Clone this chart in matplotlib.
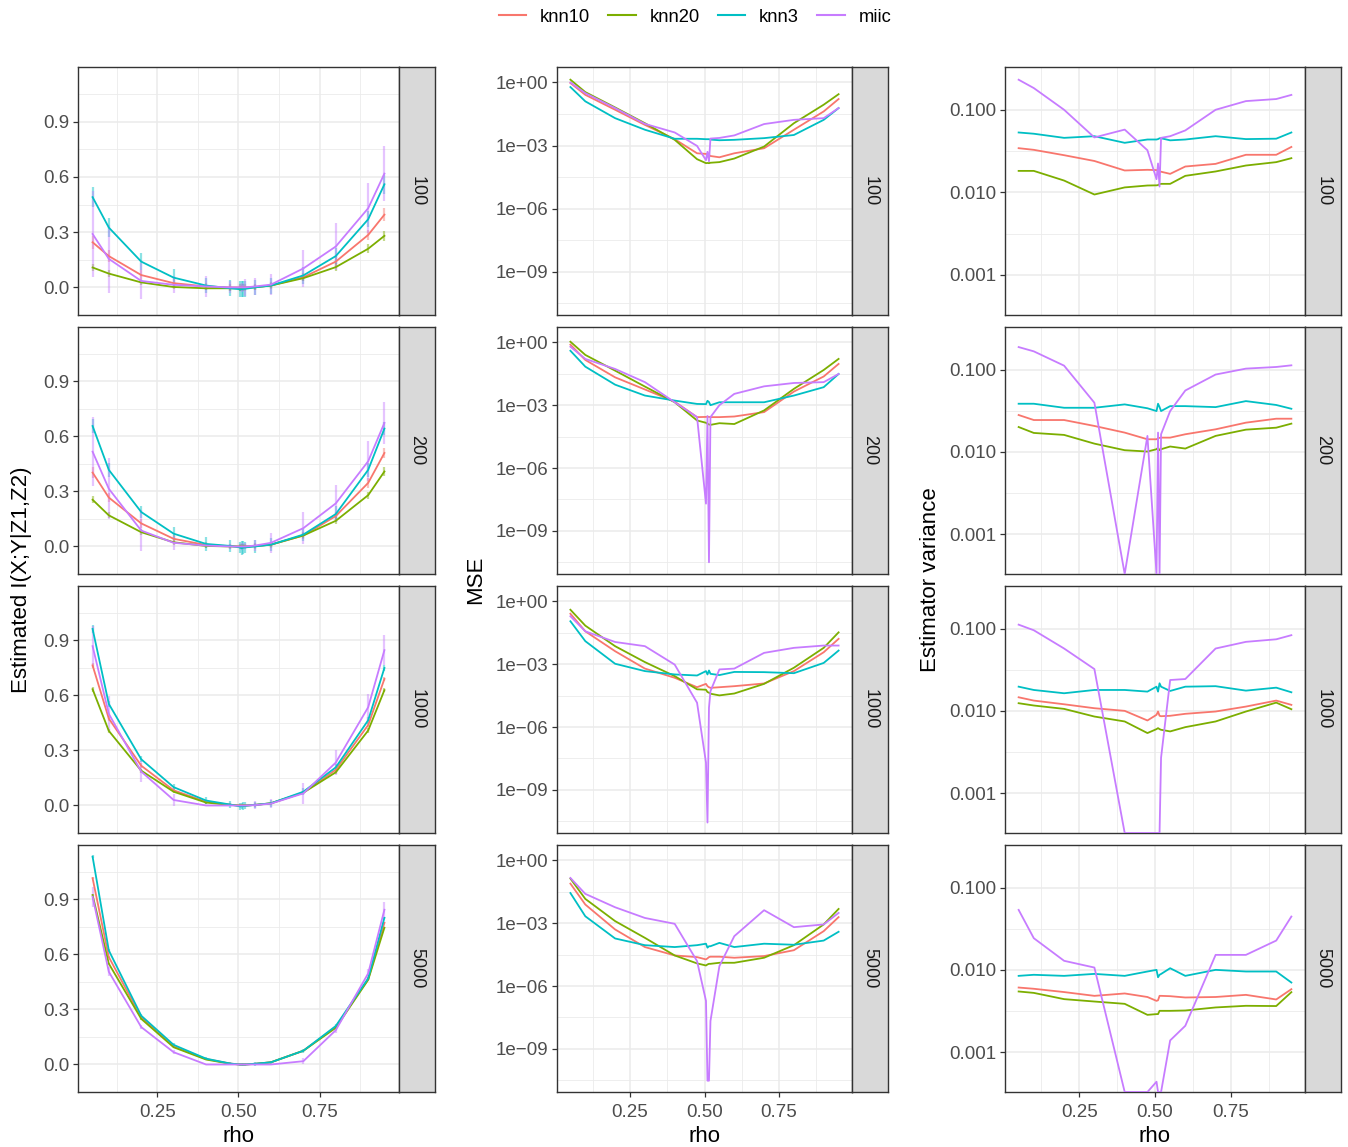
import numpy as np
import matplotlib
matplotlib.use("Agg")
import matplotlib.pyplot as plt
from matplotlib.lines import Line2D

plt.rcParams['font.family'] = ['Liberation Sans', 'DejaVu Sans']

# --- datos ---
rho = [0.05, 0.1, 0.2, 0.3, 0.4, 0.475, 0.505, 0.51, 0.515, 0.52, 0.55, 0.6, 0.7, 0.8, 0.9, 0.95]
methods = ["knn10", "knn20", "knn3", "miic"]
sizes = ["100", "200", "1000", "5000"]
colors = {"knn10": "#F8766D", "knn20": "#7CAE00", "knn3": "#00BFC4", "miic": "#C77CFF"}

# estimacion de I(X;Y|Z1,Z2)
est_100 = {
    "knn10": [0.245, 0.17, 0.067, 0.023, 0.005, 0.0, 0.0, 0.0, 0.0, 0.0, 0.002, 0.01, 0.055, 0.14, 0.285, 0.395],
    "knn20": [0.108, 0.075, 0.027, 0.002, -0.005, -0.005, -0.005, -0.004, -0.004, -0.003, 0.0, 0.01, 0.05, 0.11, 0.21, 0.28],
    "knn3": [0.49, 0.325, 0.14, 0.053, 0.01, -0.005, -0.01, -0.01, -0.008, -0.008, 0.0, 0.01, 0.065, 0.17, 0.37, 0.56],
    "miic": [0.29, 0.155, 0.035, 0.014, 0.005, 0.0, 0.0, 0.0, 0.0, 0.0, 0.005, 0.015, 0.103, 0.222, 0.43, 0.618],
}
est_200 = {
    "knn10": [0.403, 0.267, 0.126, 0.042, 0.008, 0.002, 0.0, 0.0, 0.0, 0.0, 0.002, 0.01, 0.06, 0.166, 0.347, 0.51],
    "knn20": [0.255, 0.17, 0.078, 0.023, 0.003, 0.0, 0.0, 0.0, 0.0, 0.0, 0.002, 0.01, 0.06, 0.14, 0.28, 0.409],
    "knn3": [0.657, 0.418, 0.188, 0.07, 0.014, 0.003, -0.005, -0.01, -0.005, -0.005, 0.0, 0.01, 0.065, 0.177, 0.418, 0.643],
    "miic": [0.517, 0.315, 0.087, 0.02, 0.005, 0.0, 0.0, 0.0, 0.0, 0.0, 0.005, 0.02, 0.1, 0.235, 0.465, 0.674],
}
est_1000 = {
    "knn10": [0.764, 0.474, 0.217, 0.083, 0.02, 0.004, 0.0, 0.0, 0.0, 0.0, 0.003, 0.012, 0.07, 0.195, 0.439, 0.69],
    "knn20": [0.634, 0.407, 0.19, 0.075, 0.016, 0.003, 0.0, 0.0, 0.0, 0.0, 0.003, 0.012, 0.07, 0.181, 0.409, 0.629],
    "knn3": [0.963, 0.554, 0.252, 0.10, 0.027, 0.005, -0.005, -0.004, -0.003, -0.002, 0.003, 0.012, 0.075, 0.208, 0.465, 0.75],
    "miic": [0.869, 0.5, 0.185, 0.03, 0.0, 0.0, 0.0, 0.0, 0.0, 0.0, 0.002, 0.01, 0.066, 0.234, 0.536, 0.847],
}
est_5000 = {
    "knn10": [1.016, 0.586, 0.258, 0.098, 0.03, 0.005, 0.0, 0.0, 0.0, 0.0, 0.004, 0.012, 0.075, 0.205, 0.465, 0.773],
    "knn20": [0.924, 0.55, 0.249, 0.094, 0.027, 0.004, 0.0, 0.0, 0.0, 0.0, 0.003, 0.012, 0.075, 0.2, 0.462, 0.746],
    "knn3": [1.133, 0.622, 0.266, 0.107, 0.032, 0.005, 0.0, 0.0, 0.0, 0.0, 0.004, 0.012, 0.075, 0.21, 0.47, 0.8],
    "miic": [0.915, 0.506, 0.204, 0.067, 0.0, 0.0, 0.0, 0.0, 0.0, 0.0, 0.0, 0.0, 0.018, 0.187, 0.497, 0.844],
}

# MSE (log10)
log_mse_100 = {
    "knn10": [-0.03, -0.59, -1.3, -2.02, -2.7, -3.37, -3.4, -3.42, -3.45, -3.5, -3.56, -3.37, -3.13, -2.25, -1.38, -0.79],
    "knn20": [0.13, -0.46, -1.19, -1.94, -2.73, -3.65, -3.84, -3.83, -3.84, -3.82, -3.79, -3.62, -3.05, -1.94, -1.06, -0.56],
    "knn3": [-0.22, -0.9, -1.7, -2.25, -2.68, -2.68, -2.7, -2.7, -2.7, -2.72, -2.75, -2.73, -2.65, -2.5, -1.78, -1.22],
    "miic": [0.0, -0.51, -1.22, -1.97, -2.38, -3.02, -3.7, -3.3, -3.75, -2.67, -2.64, -2.52, -1.98, -1.78, -1.7, -1.22],
}
log_mse_200 = {
    "knn10": [-0.11, -0.84, -1.67, -2.25, -2.83, -3.57, -3.56, -3.55, -3.56, -3.57, -3.57, -3.54, -3.33, -2.35, -1.63, -1.03],
    "knn20": [0.03, -0.6, -1.35, -2.11, -2.86, -3.73, -3.84, -3.89, -3.92, -3.94, -3.86, -3.9, -3.25, -2.22, -1.32, -0.79],
    "knn3": [-0.4, -1.16, -2.02, -2.54, -2.78, -2.94, -2.95, -2.79, -2.85, -3.0, -2.86, -2.86, -2.86, -2.54, -2.14, -1.51],
    "miic": [-0.21, -0.79, -1.27, -1.9, -2.86, -3.57, -7.7, -3.52, -10.5, -3.57, -3.0, -2.46, -2.1, -1.94, -1.9, -1.51],
}
log_mse_1000 = {
    "knn10": [-0.59, -1.43, -2.38, -3.21, -3.65, -4.1, -3.94, -4.05, -4.1, -4.13, -4.1, -4.05, -3.92, -3.33, -2.43, -1.79],
    "knn20": [-0.4, -1.16, -2.14, -2.9, -3.57, -4.2, -4.22, -4.33, -4.36, -4.41, -4.49, -4.4, -3.94, -3.17, -2.22, -1.48],
    "knn3": [-0.95, -1.9, -2.98, -3.33, -3.49, -3.54, -3.33, -3.49, -3.3, -3.46, -3.52, -3.37, -3.38, -3.43, -2.94, -2.35],
    "miic": [-0.71, -1.43, -1.94, -2.14, -3.02, -4.84, -7.7, -10.56, -5.08, -4.29, -3.25, -3.21, -2.46, -2.22, -2.11, -2.11],
}
log_mse_5000 = {
    "knn10": [-1.11, -2.11, -3.3, -4.14, -4.54, -4.62, -4.73, -4.68, -4.62, -4.6, -4.6, -4.65, -4.57, -4.29, -3.38, -2.71],
    "knn20": [-0.87, -1.84, -2.9, -3.7, -4.54, -4.92, -5.02, -4.97, -4.94, -4.94, -4.89, -4.89, -4.65, -4.05, -3.06, -2.32],
    "knn3": [-1.56, -2.67, -3.73, -4.05, -4.14, -4.05, -3.98, -4.17, -4.1, -4.1, -3.94, -4.14, -3.98, -4.03, -3.83, -3.41],
    "miic": [-0.84, -1.6, -2.24, -2.75, -3.03, -4.81, -6.71, -10.52, -10.52, -7.67, -5.05, -3.62, -2.38, -3.19, -3.06, -2.51],
}

# varianza del estimador (log10), None = 0
log_var_100 = {
    "knn10": [-1.465, -1.485, -1.55, -1.62, -1.735, -1.727, -1.73, -1.74, -1.75, -1.75, -1.776, -1.687, -1.655, -1.545, -1.545, -1.45],
    "knn20": [-1.74, -1.74, -1.857, -2.026, -1.94, -1.917, -1.915, -1.912, -1.9, -1.897, -1.897, -1.8, -1.747, -1.675, -1.634, -1.586],
    "knn3": [-1.275, -1.29, -1.34, -1.32, -1.4, -1.36, -1.36, -1.355, -1.345, -1.345, -1.37, -1.36, -1.32, -1.355, -1.35, -1.275],
    "miic": [-0.636, -0.737, -1.0, -1.335, -1.24, -1.49, -1.84, -1.65, -1.93, -1.34, -1.32, -1.25, -1.0, -0.895, -0.87, -0.82],
}
log_var_200 = {
    "knn10": [-1.552, -1.613, -1.613, -1.685, -1.766, -1.847, -1.847, -1.835, -1.83, -1.827, -1.827, -1.786, -1.726, -1.645, -1.597, -1.597],
    "knn20": [-1.698, -1.77, -1.794, -1.9, -1.98, -1.996, -1.968, -1.95, -1.98, -1.968, -1.935, -1.96, -1.806, -1.73, -1.706, -1.657],
    "knn3": [-1.415, -1.415, -1.464, -1.464, -1.423, -1.47, -1.504, -1.415, -1.455, -1.504, -1.444, -1.444, -1.456, -1.383, -1.43, -1.476],
    "miic": [-0.726, -0.778, -0.952, -1.403, None, -1.806, None, -1.766, None, -1.786, -1.504, -1.254, -1.06, -0.988, -0.968, -0.948],
}
log_var_1000 = {
    "knn10": [-1.835, -1.875, -1.92, -1.968, -2.0, -2.117, -2.048, -2.008, -2.06, -2.065, -2.06, -2.036, -2.008, -1.948, -1.875, -1.927],
    "knn20": [-1.907, -1.935, -1.976, -2.069, -2.129, -2.27, -2.222, -2.21, -2.222, -2.23, -2.25, -2.198, -2.129, -2.008, -1.9, -1.98],
    "knn3": [-1.706, -1.746, -1.786, -1.746, -1.746, -1.766, -1.706, -1.766, -1.665, -1.706, -1.758, -1.706, -1.7, -1.754, -1.718, -1.774],
    "miic": [-0.952, -1.02, -1.242, -1.492, None, None, None, None, None, -2.57, -1.625, -1.613, -1.242, -1.161, -1.13, -1.08],
}
log_var_5000 = {
    "knn10": [-2.215, -2.23, -2.27, -2.316, -2.287, -2.33, -2.377, -2.37, -2.316, -2.316, -2.32, -2.336, -2.33, -2.304, -2.36, -2.235],
    "knn20": [-2.263, -2.28, -2.356, -2.385, -2.413, -2.547, -2.538, -2.538, -2.498, -2.498, -2.498, -2.494, -2.457, -2.437, -2.44, -2.271],
    "knn3": [-2.073, -2.06, -2.073, -2.049, -2.073, -2.02, -2.0, -2.09, -2.06, -2.05, -1.98, -2.073, -2.0, -2.02, -2.02, -2.154],
    "miic": [-1.271, -1.615, -1.89, -1.972, None, None, -3.36, None, None, None, -2.858, -2.68, -1.818, -1.818, -1.644, -1.352],
}

est_all = [est_100, est_200, est_1000, est_5000]
mse_all = [log_mse_100, log_mse_200, log_mse_1000, log_mse_5000]
var_all = [log_var_100, log_var_200, log_var_1000, log_var_5000]

mse_ticks = [1e0, 1e-3, 1e-6, 1e-9]
mse_ticklabels = ["1e+00", "1e\u221203", "1e\u221206", "1e\u221209"]
var_ticks = [0.1, 0.01, 0.001]
var_ticklabels = ["0.100", "0.010", "0.001"]
est_ticks = [0.0, 0.3, 0.6, 0.9]
x_ticks = [0.25, 0.5, 0.75]
x_ticklabels = ["0.25", "0.50", "0.75"]

# --- figura ---
W, H = 1348, 1147
fig = plt.figure(figsize=(W / 100, H / 100), dpi=100)

def caja(x0, y0, x1, y1):
    return [x0 / W, 1 - y1 / H, (x1 - x0) / W, (y1 - y0) / H]

cols = [(78, 399), (557, 852), (1005, 1305)]
rows = [(67, 315), (327, 574), (586, 833), (845, 1092)]
strip_w = 36
GRID = "#EBEBEB"
BORDE = "#333333"

var_lo = 10 ** -3.485
var_hi = 10 ** -0.482

def to_var(vals):
    return np.array([0.0 if v is None else 10 ** v for v in vals])

for j, (x0, x1) in enumerate(cols):
    for i, (y0, y1) in enumerate(rows):
        ax = fig.add_axes(caja(x0, y0, x1, y1))
        sa = fig.add_axes(caja(x1, y0, x1 + strip_w, y1))
        sa.set_facecolor("#D9D9D9")
        sa.set_xticks([]); sa.set_yticks([])
        for s in sa.spines.values():
            s.set_color(BORDE); s.set_linewidth(1.0)
        sa.text(0.5, 0.5, sizes[i], rotation=270, ha="center", va="center",
                fontsize=13, color="#1A1A1A", transform=sa.transAxes)

        for m in methods:
            c = colors[m]
            if j == 0:
                y = np.array(est_all[i][m])
                err = to_var(var_all[i][m])
                ax.vlines(rho, y - err, y + err, color=c, alpha=0.45, linewidth=1.6, zorder=2)
                ax.plot(rho, y, color=c, linewidth=1.3, zorder=3)
            elif j == 1:
                y = 10 ** np.array(mse_all[i][m])
                ax.plot(rho, y, color=c, linewidth=1.3, zorder=3)
            else:
                y = np.maximum(to_var(var_all[i][m]), var_lo)  # squish
                ax.plot(rho, y, color=c, linewidth=1.3, zorder=3)

        ax.set_xlim(0.005, 0.995)
        ax.set_xticks(x_ticks)
        ax.set_xticks([0.125, 0.375, 0.625, 0.875], minor=True)
        if j == 0:
            ax.set_ylim(-0.118, 1.197)
            ax.set_yticks(est_ticks)
            ax.set_yticklabels([f"{t:.1f}" for t in est_ticks])
            ax.set_yticks([-0.15, 0.15, 0.45, 0.75, 1.05], minor=True)
        elif j == 1:
            ax.set_yscale("log")
            ax.set_ylim(10 ** -11.06, 10 ** 0.733)
            ax.set_yticks(mse_ticks)
            ax.set_yticklabels(mse_ticklabels)
            ax.set_yticks([10 ** -1.5, 10 ** -4.5, 10 ** -7.5, 10 ** -10.5], minor=True)
            ax.yaxis.set_minor_formatter(matplotlib.ticker.NullFormatter())
        else:
            ax.set_yscale("log")
            ax.set_ylim(var_lo, var_hi)
            ax.set_yticks(var_ticks)
            ax.set_yticklabels(var_ticklabels)
            ax.set_yticks([10 ** -1.5, 10 ** -2.5], minor=True)
            ax.yaxis.set_minor_formatter(matplotlib.ticker.NullFormatter())

        ax.grid(True, which="major", color=GRID, linewidth=1.1, zorder=0)
        ax.grid(True, which="minor", color=GRID, linewidth=0.6, zorder=0)
        ax.set_axisbelow(True)
        for s in ax.spines.values():
            s.set_color(BORDE); s.set_linewidth(1.0)
        ax.tick_params(axis="both", which="major", length=3.5, width=0.9, color=BORDE,
                       labelsize=13.5, labelcolor="#4D4D4D", pad=2.5)
        ax.tick_params(axis="x", which="major", pad=5)
        ax.tick_params(axis="both", which="minor", length=0)
        if i < 3:
            ax.tick_params(axis="x", which="major", length=0, labelbottom=False)
        else:
            ax.set_xticklabels(x_ticklabels)
            ax.set_xlabel("rho", fontsize=16, color="black", labelpad=4)

fig.text(22 / W, 1 - 580 / H, "Estimated I(X;Y|Z1,Z2)", rotation=90, ha="center", va="center", fontsize=16)
fig.text(476 / W, 1 - 580 / H, "MSE", rotation=90, ha="center", va="center", fontsize=16)
fig.text(930 / W, 1 - 580 / H, "Estimator variance", rotation=90, ha="center", va="center", fontsize=16)

handles = [Line2D([0], [0], color=colors[m], linewidth=1.5) for m in methods]
fig.legend(handles, methods, loc="center", bbox_to_anchor=(695 / W, 1 - 17 / H), ncol=4,
           frameon=False, fontsize=13.2, handlelength=1.5, columnspacing=1.0, handletextpad=0.75)

fig.savefig("out.png", dpi=100)
